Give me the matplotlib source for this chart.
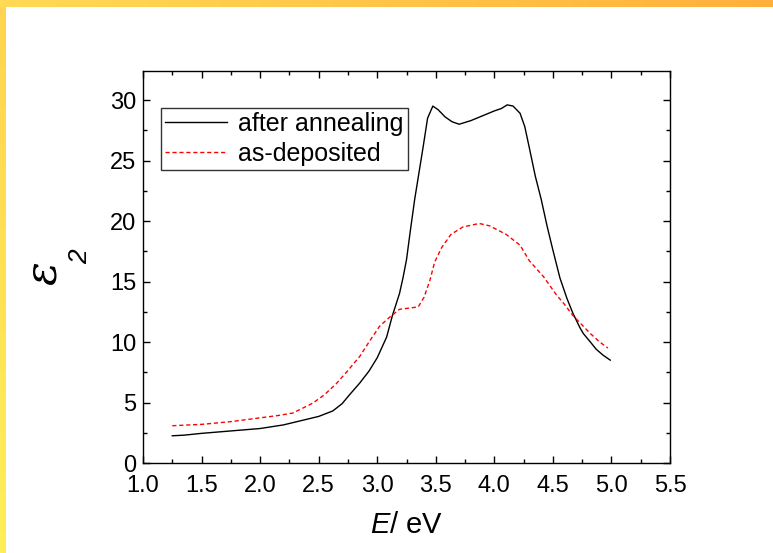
import numpy as np
import matplotlib
matplotlib.use("Agg")
import matplotlib.pyplot as plt
from matplotlib.ticker import MultipleLocator, FormatStrFormatter

plt.rcParams['font.family'] = ['Liberation Sans', 'DejaVu Sans']
plt.rcParams['mathtext.fontset'] = 'custom'
plt.rcParams['mathtext.it'] = 'Liberation Sans:italic'
plt.rcParams['mathtext.rm'] = 'Liberation Sans'

# after annealing (black solid)
E_ann = [1.25, 1.35, 1.5, 1.75, 2.0, 2.2, 2.35, 2.5, 2.62, 2.7, 2.76, 2.85, 2.93,
         3.0, 3.08, 3.13, 3.19, 3.22, 3.25, 3.28, 3.32, 3.36, 3.39, 3.43, 3.475,
         3.52, 3.58, 3.64, 3.70, 3.80, 3.90, 4.00, 4.06, 4.11, 4.16, 4.22, 4.26,
         4.30, 4.35, 4.40, 4.45, 4.50, 4.56, 4.62, 4.67, 4.73, 4.76, 4.82, 4.87,
         4.93, 4.99]
eps_ann = [2.25, 2.3, 2.45, 2.65, 2.85, 3.15, 3.5, 3.85, 4.3, 4.9, 5.6, 6.6, 7.6,
           8.7, 10.4, 12.2, 14.0, 15.3, 16.8, 19.0, 21.8, 24.2, 26.0, 28.5, 29.5,
           29.2, 28.6, 28.2, 28.0, 28.3, 28.7, 29.1, 29.3, 29.6, 29.5, 28.9, 27.8,
           26.0, 23.7, 21.8, 19.6, 17.6, 15.3, 13.6, 12.4, 11.2, 10.7, 10.0, 9.4,
           8.9, 8.5]

# as-deposited (red dashed)
E_dep = [1.25, 1.51, 1.75, 1.99, 2.15, 2.28, 2.45, 2.55, 2.65, 2.75, 2.85, 2.93,
         3.02, 3.10, 3.19, 3.27, 3.35, 3.40, 3.45, 3.49, 3.55, 3.63, 3.73, 3.87,
         3.96, 4.10, 4.22, 4.30, 4.42, 4.53, 4.60, 4.67, 4.74, 4.82, 4.90, 4.97]
eps_dep = [3.08, 3.2, 3.42, 3.72, 3.92, 4.13, 4.95, 5.65, 6.55, 7.65, 8.8, 10.0,
           11.3, 12.0, 12.7, 12.8, 12.9, 13.7, 15.1, 16.6, 17.8, 18.9, 19.5, 19.8,
           19.6, 18.9, 18.0, 16.7, 15.4, 13.9, 13.1, 12.2, 11.5, 10.7, 10.0, 9.5]

W, H = 773, 553
fig = plt.figure(figsize=(W / 100, H / 100), dpi=100)

# decorative border (top gradient band and left band)
top_ax = fig.add_axes([0, 1 - 7 / H, 1, 7 / H])
gt = np.linspace(0, 1, 256)
c0 = np.array([255, 218, 84]) / 255
c1 = np.array([255, 176, 60]) / 255
top_img = (c0[None, :] * (1 - gt[:, None]) + c1[None, :] * gt[:, None])[None, :, :]
top_ax.imshow(top_img, aspect='auto', extent=[0, 1, 0, 1])
top_ax.axis('off')

left_ax = fig.add_axes([0, 0, 6 / W, 1 - 7 / H])
l0 = np.array([255, 212, 80]) / 255
l1 = np.array([255, 239, 88]) / 255
left_img = (l0[None, :] * (1 - gt[:, None]) + l1[None, :] * gt[:, None])[:, None, :]
left_ax.imshow(left_img, aspect='auto', extent=[0, 1, 0, 1])
left_ax.axis('off')

ax = fig.add_axes([143 / W, (H - 463) / H, (670 - 143) / W, (463 - 71) / H])
ax.plot(E_ann, eps_ann, color='black', lw=1.0, label='after annealing')
ax.plot(E_dep, eps_dep, color='#ff0000', lw=1.0, linestyle=(0, (3, 2)),
        label='as-deposited')

ax.set_xlim(1.0, 5.5)
ax.set_ylim(0, 32.4)
ax.xaxis.set_major_locator(MultipleLocator(0.5))
ax.xaxis.set_minor_locator(MultipleLocator(0.25))
ax.yaxis.set_major_locator(MultipleLocator(5))
ax.yaxis.set_minor_locator(MultipleLocator(2.5))
ax.xaxis.set_major_formatter(FormatStrFormatter('%.1f'))
ax.tick_params(which='both', direction='in', top=True, right=True,
               labelsize=17, width=1.0)
ax.tick_params(axis='x', which='major', pad=9)
ax.tick_params(axis='y', which='major', pad=5)
ax.tick_params(which='major', length=5)
ax.tick_params(which='minor', length=3)
for s in ax.spines.values():
    s.set_linewidth(1.0)

ax.set_xlabel(r'$E$/ eV', fontsize=21, labelpad=10)

# y label: epsilon with subscript 2
fig.text(43 / W, 1 - 273 / H, 'ε', rotation=90, fontsize=32,
         family='DejaVu Serif', style='italic', ha='center', va='center')
fig.text(80 / W, 1 - 257 / H, '2', rotation=90, fontsize=19,
         family='Liberation Sans', style='italic', ha='center', va='center')

leg = ax.legend(loc='upper left', bbox_to_anchor=(0.034, 0.906),
                borderaxespad=0, fontsize=18, frameon=True, fancybox=False,
                edgecolor='black', handlelength=2.5, handletextpad=0.45,
                borderpad=0.15, labelspacing=0.25)
leg.get_frame().set_linewidth(1.0)

fig.savefig('out.png', dpi=100)
